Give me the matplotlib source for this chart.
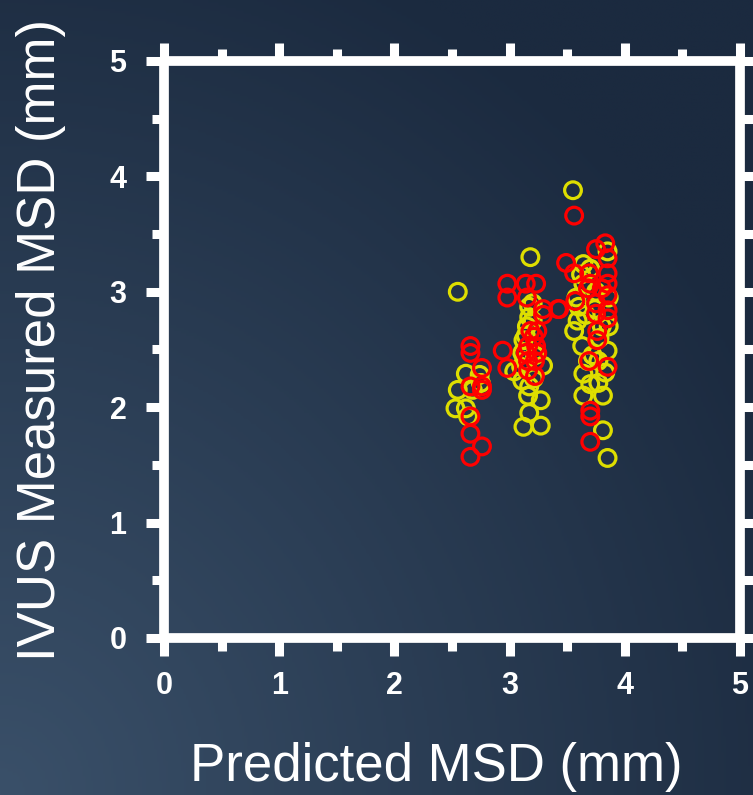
import numpy as np
import matplotlib
matplotlib.use("Agg")
import matplotlib.pyplot as plt
from matplotlib.colors import LinearSegmentedColormap

# yellow series (predicted, measured)
yel_x = [2.55, 2.62, 2.74, 2.75, 2.55, 2.53, 2.62, 2.64, 2.68,
         3.18, 3.17, 3.17, 3.15, 3.20, 3.12, 3.11, 3.10, 3.04, 3.11, 3.17,
         3.29, 3.27, 3.17, 3.12, 3.27, 3.20, 3.14, 3.22, 3.13, 3.21, 3.16,
         3.55, 3.64, 3.85, 3.64, 3.60, 3.56, 3.63, 3.85, 3.64, 3.77, 3.64,
         3.81, 3.81, 3.85, 3.59, 3.70, 3.75, 3.80, 3.72, 3.83, 3.68, 3.78,
         3.58, 3.66, 3.74, 3.86, 3.62, 3.77, 3.70, 3.86]
yel_y = [3.00, 2.29, 2.28, 2.21, 2.15, 1.99, 1.99, 1.92, 2.15,
         3.30, 2.87, 2.78, 2.70, 2.75, 2.58, 2.47, 2.35, 2.31, 2.23, 2.18,
         2.36, 2.06, 1.95, 1.83, 1.84, 2.90, 2.62, 2.45, 2.40, 2.25, 2.10,
         3.88, 3.24, 3.35, 3.07, 2.87, 2.66, 2.53, 2.49, 2.29, 2.21, 2.10,
         2.10, 1.80, 1.56, 2.75, 3.20, 3.00, 2.70, 2.45, 2.30, 2.40, 2.60,
         2.95, 2.80, 2.85, 2.95, 3.15, 2.40, 2.20, 2.70]

# red series
red_x = [2.66, 2.66, 2.76, 2.66, 2.76, 2.76, 2.66, 2.66, 2.76, 2.66,
         2.98, 3.14, 3.23, 2.98, 3.15, 3.29, 3.42, 3.29, 2.94, 2.98,
         3.18, 3.24, 3.21, 3.16, 3.23, 3.14, 3.24, 3.16, 3.22, 3.16, 3.22,
         3.56, 3.83, 3.75, 3.85, 3.49, 3.56, 3.69, 3.85, 3.70, 3.85, 3.68,
         3.80, 3.85, 3.57, 3.43, 3.75, 3.85, 3.75, 3.85, 3.76, 3.76, 3.69,
         3.85, 3.70, 3.70, 3.70]
red_y = [2.53, 2.47, 2.34, 2.18, 2.18, 2.15, 1.92, 1.77, 1.66, 1.57,
         3.07, 3.07, 3.07, 2.95, 2.95, 2.85, 2.85, 2.80, 2.49, 2.34,
         2.66, 2.66, 2.61, 2.53, 2.53, 2.47, 2.47, 2.40, 2.40, 2.32, 2.27,
         3.66, 3.42, 3.37, 3.29, 3.25, 3.16, 3.16, 3.16, 3.07, 3.07, 3.03,
         3.03, 2.97, 2.92, 2.85, 2.90, 2.84, 2.81, 2.77, 2.66, 2.58, 2.40,
         2.35, 1.97, 1.92, 1.70]

ticks = [0, 1, 2, 3, 4, 5]

plt.rcParams['font.family'] = ['Liberation Sans', 'DejaVu Sans']

fig = plt.figure(figsize=(7.53, 7.95), dpi=100)

# background gradient, lighter in bottom-left corner
bg = fig.add_axes([0, 0, 1, 1], zorder=-10)
u, v = np.meshgrid(np.linspace(0, 1, 300), np.linspace(0, 1, 300))
w = np.clip(1 - np.sqrt(u**2 + (1 - v)**2) / 1.15, 0, 1)
cmap = LinearSegmentedColormap.from_list("bg", ["#1b2a3f", "#3a5069"])
bg.imshow(w, cmap=cmap, aspect="auto", extent=[0, 1, 0, 1], vmin=0, vmax=1)
bg.axis("off")

ax = fig.add_axes([0.2178, 0.1975, 0.765, 0.7258])
ax.patch.set_alpha(0)

ax.scatter(yel_x, yel_y, s=145, facecolors="none", edgecolors="#dede00",
           linewidths=2.3, zorder=3)
ax.scatter(red_x, red_y, s=145, facecolors="none", edgecolors="#ff0000",
           linewidths=2.3, zorder=4)

ax.set_xlim(0, 5)
ax.set_ylim(0, 5)
ax.set_xticks(ticks)
ax.set_yticks(ticks)
ax.set_xticks(np.arange(0.5, 5, 1), minor=True)
ax.set_yticks(np.arange(0.5, 5, 1), minor=True)

for s in ax.spines.values():
    s.set_color("white")
    s.set_linewidth(7)
    s.set_capstyle("round")

ax.tick_params(which="both", direction="out", color="white", width=6.5,
               top=True, right=True)
ax.tick_params(which="major", length=13)
ax.tick_params(which="minor", length=9)
ax.tick_params(axis="x", which="major", labelsize=22, labelcolor="white", pad=11)
ax.tick_params(axis="y", which="major", labelsize=22, labelcolor="white", pad=14)
for lab in ax.get_xticklabels() + ax.get_yticklabels():
    lab.set_fontweight("bold")

fig.text(0.58, 0.035, "Predicted MSD (mm)", color="white", fontsize=38,
         ha="center", va="center")
fig.text(0.055, 0.572, "IVUS Measured MSD (mm)", color="white", fontsize=38,
         ha="center", va="center", rotation=90)

fig.savefig("out.png", dpi=100)
